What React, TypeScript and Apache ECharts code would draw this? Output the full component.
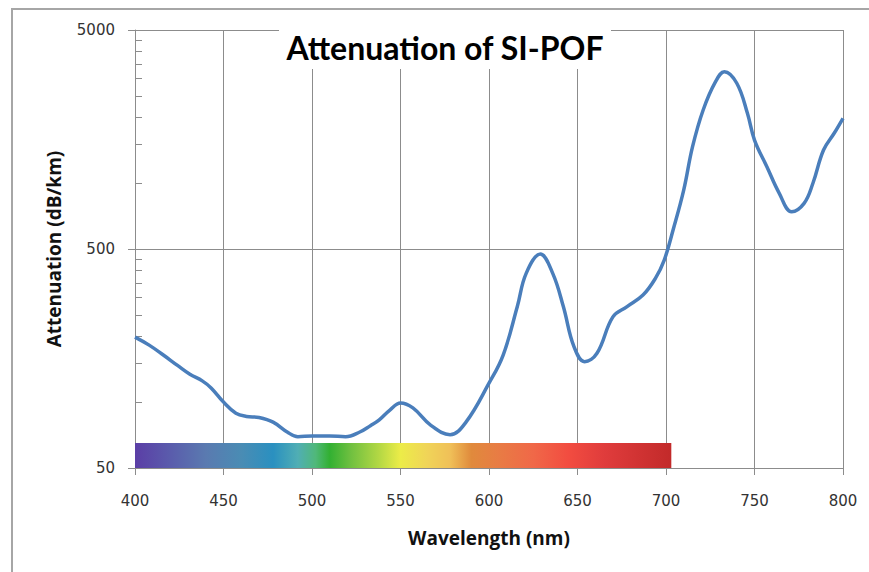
import React, { useEffect, useRef } from "react";
import * as echarts from "echarts";

// Wavelength (nm) and attenuation (dB/km)
const wavelengths = [400, 408, 416, 424, 431, 438, 443, 450, 457, 463, 470, 478, 486, 492, 500, 510, 519, 527, 533, 538, 544, 550, 557, 567, 578, 587, 600, 608, 616, 621, 629, 636, 642, 648, 654, 661, 670, 678, 687, 694, 699, 704, 710, 715, 721, 728, 733, 740, 746, 750, 757, 764, 771, 778, 783, 789, 795, 800];
const attenuation = [198, 182, 164, 147, 134, 125, 116, 100, 89, 86, 85, 81, 73, 69.5, 70, 70, 69.5, 73, 78, 83, 92, 99, 94, 78.5, 71, 81, 122, 164, 273, 387, 474, 387, 273, 179, 153, 167, 245, 273, 308, 367, 445, 611, 929, 1466, 2157, 2904, 3226, 2856, 2082, 1572, 1188, 898, 740, 808, 998, 1416, 1688, 1976];

// Axis ticks
const yMajorTicks = [50, 500, 5000];
const yMinorTicks = [100, 150, 200, 250, 300, 350, 400, 450, 1000, 1500, 2000, 2500, 3000, 3500, 4000, 4500];
const xMin = 400;
const xMax = 800;
const xStep = 50;

// Visible spectrum strip
const spectrumStart = 400;
const spectrumEnd = 703;
const spectrumTop = 65;
const spectrumNm = [400, 420, 440, 460, 478, 492, 502, 510, 522, 538, 550, 565, 578, 590, 605, 625, 645, 665, 703];
const spectrumColors = ["#5b3ea6", "#5a5cac", "#5a7ab0", "#4a8cb4", "#2a90c0", "#50aeb4", "#50b87a", "#32b032", "#70c040", "#b4d844", "#ecec48", "#f0d458", "#f0c058", "#e08a3c", "#e87c44", "#f06848", "#f24c40", "#e03c3c", "#c22a2a"];

const titleText = "Attenuation of SI-POF";
const xName = "Wavelength (nm)";
const yName = "Attenuation (dB/km)";

export default function App() {
  const ref = useRef<HTMLDivElement>(null);
  useEffect(() => {
    const chart = echarts.init(ref.current!, null, { renderer: "svg" });
    const gridColor = "#8c8c8c";
    const labelFont = { fontFamily: "DejaVu Sans", fontSize: 15, color: "#333" };
    const nameFont = { fontFamily: "Open Sans", fontWeight: "bold", fontSize: 19, color: "#111" };
    const data = wavelengths.map((w, i) => [w, attenuation[i]]);
    const stops = spectrumNm.map((nm, i) => ({
      offset: (nm - spectrumStart) / (spectrumEnd - spectrumStart),
      color: spectrumColors[i],
    }));
    chart.setOption({
      animation: false,
      backgroundColor: "#fff",
      grid: { left: 135, top: 30, width: 708, height: 438, outerBoundsMode: "none" },
      xAxis: {
        type: "value",
        min: xMin,
        max: xMax,
        interval: xStep,
        name: xName,
        nameLocation: "middle",
        nameGap: 60,
        nameTextStyle: nameFont,
        axisLine: { show: true, onZero: false, lineStyle: { color: gridColor, width: 1 } },
        axisTick: { show: true, length: 7, lineStyle: { color: gridColor, width: 1 } },
        axisLabel: { ...labelFont, margin: 25 },
        splitLine: { show: true, lineStyle: { color: gridColor, width: 1 } },
      },
      yAxis: [
        {
          type: "log",
          logBase: 10,
          min: 50,
          max: 5000,
          name: yName,
          nameLocation: "middle",
          nameGap: 72,
          nameTextStyle: nameFont,
          axisLine: { show: true, onZero: false, lineStyle: { color: gridColor, width: 1 } },
          axisTick: { show: true, length: 7, customValues: yMajorTicks, lineStyle: { color: gridColor, width: 1 } },
          axisLabel: {
            ...labelFont,
            margin: 20,
            customValues: yMajorTicks,
            formatter: (v: number) => String(Math.round(v)),
          },
          splitLine: { show: true, lineStyle: { color: gridColor, width: 1 } },
        },
        {
          type: "log",
          logBase: 10,
          min: 50,
          max: 5000,
          position: "left",
          offset: 0,
          axisLine: { show: false },
          axisTick: { show: true, inside: true, length: 7, customValues: yMinorTicks, lineStyle: { color: gridColor, width: 1 } },
          axisLabel: { show: false },
          splitLine: { show: false },
        },
      ],
      series: [
        {
          type: "line",
          data,
          smooth: 0.4,
          symbol: "none",
          z: 3,
          lineStyle: { color: "#4a7ebb", width: 3.5 },
          markArea: {
            silent: true,
            label: { show: false },
            itemStyle: { color: new echarts.graphic.LinearGradient(0, 0, 1, 0, stops) },
            data: [[{ xAxis: spectrumStart, yAxis: 50 }, { xAxis: spectrumEnd, yAxis: spectrumTop }]],
          },
        },
      ],
      graphic: [
        {
          type: "polyline",
          z: 0,
          silent: true,
          shape: { points: [[12, 700], [12, 9], [900, 9]] },
          style: { fill: "none", stroke: "#a6a6a6", lineWidth: 2 },
        },
        {
          type: "rect",
          z: 10,
          silent: true,
          shape: { x: 279, y: 29, width: 332, height: 40 },
          style: { fill: "#fff" },
        },
        {
          type: "text",
          z: 11,
          x: 445,
          y: 47,
          style: {
            text: titleText,
            fontFamily: "Lato",
            fontWeight: "bold",
            fontSize: 32,
            fill: "#000",
            align: "center",
            verticalAlign: "middle",
          },
        },
      ],
    });
    return () => chart.dispose();
  }, []);
  return <div ref={ref} style={{ position: "absolute", left: 0, top: 0, width: 869, height: 572 }} />;
}
